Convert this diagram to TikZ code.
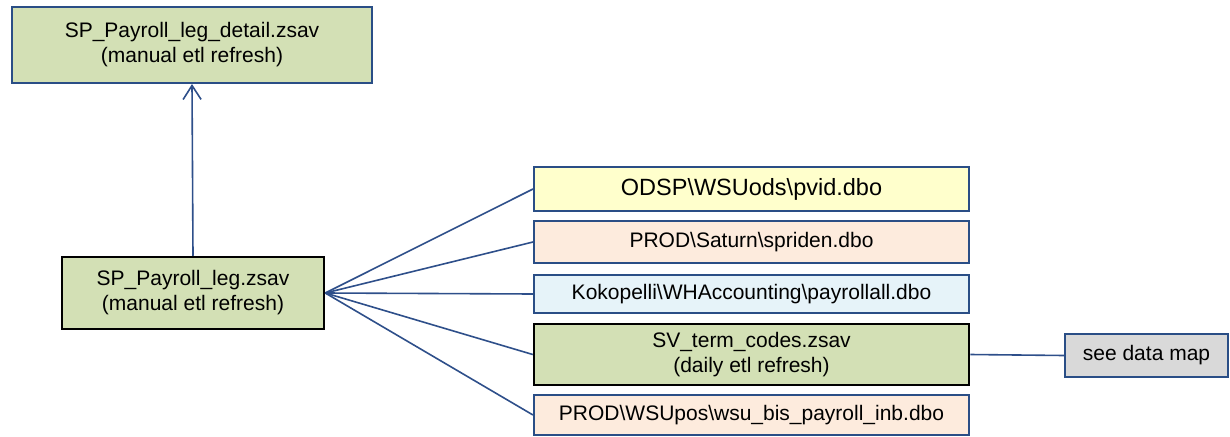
\documentclass[tikz,border=0pt]{standalone}
\usepackage{fontspec}
\setmainfont{Liberation Sans}
\usetikzlibrary{arrows.meta}
\definecolor{boxgreen}{HTML}{D3E0B5}
\definecolor{boxyellow}{HTML}{FFFFCC}
\definecolor{boxpeach}{HTML}{FDEBDD}
\definecolor{boxblue}{HTML}{E6F3F9}
\definecolor{boxgrey}{HTML}{D9D9D9}
\definecolor{edgeblue}{HTML}{2A4E86}
\definecolor{lineblue}{HTML}{2E4F8A}
\tikzset{
  bx/.style={draw=edgeblue, line width=2pt, rectangle, inner sep=0pt, align=center,
    font=\fontsize{21}{25}\selectfont},
  bxk/.style={bx, draw=black, line width=2.5pt},
  conn/.style={draw=lineblue, line width=1.6pt},
}
\begin{document}
\begin{tikzpicture}[x=1pt,y=-1pt]
\useasboundingbox (0,0) rectangle (1230,436);
\node[bx, fill=boxgreen, minimum width=360pt, minimum height=76pt] (top) at (192,45)
  {SP\_Payroll\_leg\_detail.zsav\\(manual etl refresh)};
\node[bxk, fill=boxgreen, minimum width=262pt, minimum height=72pt] (mid) at (193,293)
  {SP\_Payroll\_leg.zsav\\(manual etl refresh)};
\node[bx, fill=boxyellow, minimum width=435pt, minimum height=44pt, font=\fontsize{23.5}{27}\selectfont] (odsp) at (751.5,189)
  {ODSP\textbackslash WSUods\textbackslash pvid.dbo};
\node[bx, fill=boxpeach, minimum width=435pt, minimum height=42pt] (sat) at (751.5,242)
  {PROD\textbackslash Saturn\textbackslash spriden.dbo};
\node[bx, fill=boxblue, minimum width=435pt, minimum height=38pt] (kok) at (751.5,294)
  {Kokopelli\textbackslash WHAccounting\textbackslash payrollall.dbo};
\node[bxk, fill=boxgreen, minimum width=435pt, minimum height=61pt] (sv) at (751.5,354.5)
  {SV\_term\_codes.zsav\\(daily etl refresh)};
\node[bx, fill=boxpeach, minimum width=435pt, minimum height=40pt] (wsu) at (751.5,415)
  {PROD\textbackslash WSUpos\textbackslash wsu\_bis\_payroll\_inb.dbo};
\node[bx, fill=boxgrey, minimum width=163pt, minimum height=43pt] (map) at (1146.5,355.5)
  {see data map};
\draw[conn, -{Straight Barb[length=14pt,width=18pt,line width=1.6pt]}] (mid.north) -- (top.south);
\draw[conn] (mid.east) -- (odsp.west);
\draw[conn] (mid.east) -- (sat.west);
\draw[conn] (mid.east) -- (kok.west);
\draw[conn] (mid.east) -- (sv.west);
\draw[conn] (mid.east) -- (wsu.west);
\draw[conn] (sv.east) -- (map.west);
\end{tikzpicture}
\end{document}
